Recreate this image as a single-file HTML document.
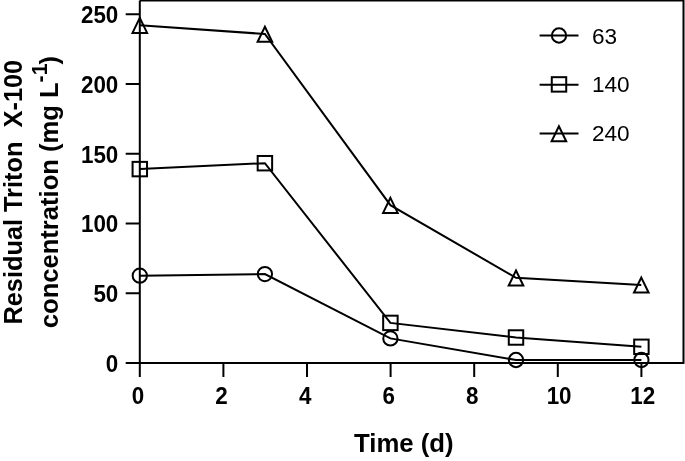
<!DOCTYPE html>
<html><head><meta charset="utf-8"><title>Residual Triton X-100 concentration</title>
<style>
html,body{margin:0;padding:0;background:#fff;}
body{width:685px;height:461px;overflow:hidden;}
svg{display:block;}
text{font-family:"Liberation Sans",sans-serif;fill:#000;}
.b{font-weight:bold;}
.tk{font-size:22.4px;font-weight:bold;}
.ttl{font-size:26px;font-weight:bold;}
.lg{font-size:22.6px;}
</style></head><body>
<svg width="685" height="461" viewBox="0 0 685 461">
<rect width="685" height="461" fill="#fff"/>
<g fill="none" stroke="#000" stroke-width="2.0" stroke-linejoin="miter" stroke-linecap="butt">
<path d="M139.8 0.4H683.5V363.0H125.7M139.8 0.4V377.1"/>
<path d="M125.7 293.23H139.8M125.7 223.46H139.8M125.7 153.69H139.8M125.7 83.92H139.8M125.7 14.15H139.8M223.40 363.0V377.1M307.00 363.0V377.1M390.60 363.0V377.1M474.20 363.0V377.1M557.80 363.0V377.1M641.40 363.0V377.1"/>
<polyline points="139.8,275.7 264.9,274.1 390.4,338.4 516.0,360.0 641.4,360.0"/>
<polyline points="139.8,169.1 264.9,163.2 390.4,322.9 516.0,337.5 641.4,346.8"/>
<polyline points="139.8,25.2 264.9,34.0 390.4,205.2 516.0,277.8 641.3,284.9"/>
<circle cx="139.8" cy="275.7" r="7.15"/><circle cx="264.9" cy="274.1" r="7.15"/><circle cx="390.4" cy="338.4" r="7.15"/><circle cx="516.0" cy="360.0" r="7.15"/><circle cx="641.4" cy="360.0" r="7.15"/>
<rect x="132.58" y="161.88" width="14.45" height="14.45"/><rect x="257.68" y="155.98" width="14.45" height="14.45"/><rect x="383.18" y="315.68" width="14.45" height="14.45"/><rect x="508.78" y="330.28" width="14.45" height="14.45"/><rect x="634.18" y="339.58" width="14.45" height="14.45"/>
<path d="M139.80 17.90L147.10 32.90L132.50 32.90Z"/><path d="M264.90 26.70L272.20 41.70L257.60 41.70Z"/><path d="M390.40 197.90L397.70 212.90L383.10 212.90Z"/><path d="M516.00 270.50L523.30 285.50L508.70 285.50Z"/><path d="M641.30 277.60L648.60 292.60L634.00 292.60Z"/>
<path d="M539.6 35.5H578.5"/>
<path d="M539.6 84.7H578.5"/>
<path d="M539.6 133.4H578.5"/>
<circle cx="559.0" cy="35.5" r="7.15"/>
<rect x="551.78" y="77.18" width="14.45" height="14.45"/>
<path d="M558.90 126.30L566.20 141.30L551.60 141.30Z"/>
</g>
<text class="tk" transform="translate(118.3 372) scale(1 1.052)" text-anchor="end">0</text>
<text class="tk" transform="translate(118.3 302) scale(1 1.052)" text-anchor="end">50</text>
<text class="tk" transform="translate(118.3 232) scale(1 1.052)" text-anchor="end">100</text>
<text class="tk" transform="translate(118.3 163) scale(1 1.052)" text-anchor="end">150</text>
<text class="tk" transform="translate(118.3 93) scale(1 1.052)" text-anchor="end">200</text>
<text class="tk" transform="translate(118.3 23) scale(1 1.052)" text-anchor="end">250</text>
<text class="tk" transform="translate(137.9 404) scale(1 1.045)" text-anchor="middle">0</text>
<text class="tk" transform="translate(221.5 404) scale(1 1.045)" text-anchor="middle">2</text>
<text class="tk" transform="translate(305.1 404) scale(1 1.045)" text-anchor="middle">4</text>
<text class="tk" transform="translate(388.7 404) scale(1 1.045)" text-anchor="middle">6</text>
<text class="tk" transform="translate(472.3 404) scale(1 1.045)" text-anchor="middle">8</text>
<text class="tk" transform="translate(559.1 404) scale(1 1.045)" text-anchor="middle">10</text>
<text class="tk" transform="translate(642.7 404) scale(1 1.045)" text-anchor="middle">12</text>
<text class="ttl" transform="translate(354.0 452) scale(0.991 1.02)">Time (d)</text>
<text class="ttl" transform="translate(22.2 324.5) rotate(-90) scale(0.974 1)" xml:space="preserve">Residual Triton  <tspan dx="0.2">X-100</tspan></text>
<text class="ttl" transform="translate(58.2 328.2) rotate(-90) scale(0.984 1)">concentration (mg L<tspan font-size="21.5px" dy="-11.2">-1</tspan><tspan dy="11.2" dx="-0.8">)</tspan></text>
<text class="lg" x="591.9" y="44">63</text>
<text class="lg" x="591.9" y="92">140</text>
<text class="lg" x="591.9" y="141.4">240</text>
</svg></body></html>
